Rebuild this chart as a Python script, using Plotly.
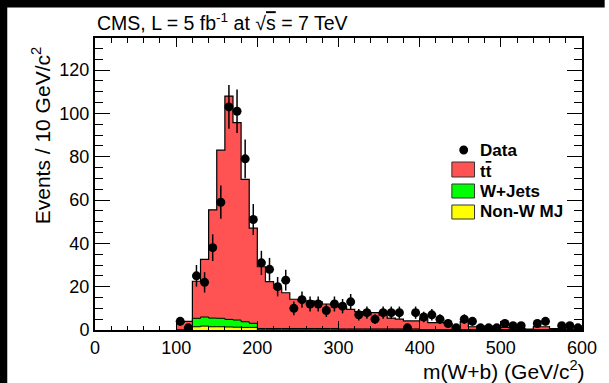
import numpy as np
import plotly.graph_objects as go

# ---- data (bins of 10 GeV, lower edges) ----
bin_lo = list(range(100, 600, 10))

total_mc = [3.5, 4.0, 22.5, 32.6, 55.5, 83.0, 108.0, 95.7, 69.5, 47.0,
            29.2, 22.3, 19.5, 17.2, 14.2, 13.5, 13.5, 13.0, 12.0, 11.8,
            10.5, 9.5, 8.5, 7.0, 8.0, 6.9, 5.5, 5.0, 4.2, 4.2,
            5.4, 3.4, 3.4, 3.0, 0.8, 3.9, 1.5, 1.8, 1.8, 1.8,
            1.2, 1.0, 0.6, 0.4, 1.5, 1.5, 0.6, 0.5, 0.4, 0.4]

wjets = [0.0, 0.0, 3.9, 4.2, 4.0, 3.9, 3.5, 3.3, 2.6, 1.9,
         0.6, 0.6, 0.6, 0.6, 0.6, 0.6, 0.6, 0.6, 0.6, 0.6,
         0.4, 0.4, 0.4, 0.4, 0.4, 0.4, 0.4, 0.4, 0.4, 0.4,
         0.2, 0.2, 0.2, 0.2, 0.2, 0.2, 0.2, 0.2, 0.2, 0.2,
         0.2, 0.2, 0.2, 0.2, 0.2, 0.2, 0.2, 0.2, 0.2, 0.2]

nonw_mj = [0.0, 0.0, 1.5, 1.8, 1.5, 1.5, 1.4, 1.3, 1.2, 1.2,
           0.1, 0.1, 0.1, 0.1, 0.1, 0.1, 0.1, 0.1, 0.1, 0.1,
           0.1, 0.1, 0.1, 0.1, 0.1, 0.1, 0.1, 0.1, 0.1, 0.1,
           0.0, 0.0, 0.0, 0.0, 0.0, 0.0, 0.0, 0.0, 0.0, 0.0,
           0.0, 0.0, 0.0, 0.0, 0.0, 0.0, 0.0, 0.0, 0.0, 0.0]

data_counts = [4, 1, 25, 22, 38, 59, 103, 101, 79, 51,
               31, 28, 20, 23, 10, 14, 12, 12, 9, 12,
               11, 13, 7, 8, 5, 8, 8, 8, 1, 8,
               6, 7, 5, 3, 1, 5, 4, 1, 1, 1,
               3, 2, 2, 0, 3, 4, 0, 2, 2, 1]

x_ticks = [0, 100, 200, 300, 400, 500, 600]
y_ticks = [0, 20, 40, 60, 80, 100, 120]

# ---- derived ----
bw = 10
lo = np.array(bin_lo, dtype=float)
edges = np.append(lo, lo[-1] + bw)
centers = lo + bw / 2
tot = np.array(total_mc)
wj = np.array(wjets)
mj = np.array(nonw_mj)
dat = np.array(data_counts, dtype=float)

def step(v):
    return list(np.append(v, v[-1]))

RED = "#ff5252"
GREEN = "#00ff00"
YELLOW = "#ffff00"
FONT = "Liberation Sans, Arial, Helvetica, sans-serif"

fig = go.Figure()
fig.add_trace(go.Scatter(x=list(edges), y=step(tot), mode="lines", line_shape="hv",
                         fill="tozeroy", fillcolor=RED,
                         line=dict(color="black", width=1.2), showlegend=False,
                         hoverinfo="skip"))
fig.add_trace(go.Scatter(x=list(edges), y=step(wj + mj), mode="lines", line_shape="hv",
                         fill="tozeroy", fillcolor=GREEN,
                         line=dict(color="black", width=1), showlegend=False,
                         hoverinfo="skip"))
fig.add_trace(go.Scatter(x=list(edges), y=step(mj), mode="lines", line_shape="hv",
                         fill="tozeroy", fillcolor=YELLOW,
                         line=dict(color="black", width=1), showlegend=False,
                         hoverinfo="skip"))
mask = dat > 0
fig.add_trace(go.Scatter(x=list(centers[mask]), y=list(dat[mask]), mode="markers",
                         marker=dict(color="black", size=9),
                         error_y=dict(type="data", array=list(np.sqrt(dat[mask])),
                                      color="black", thickness=1.5, width=0),
                         showlegend=False))

# ---- layout geometry ----
L, R, T, B = 95, 589, 38, 330
W, H = R - L, B - T

def px(xp):
    return (xp - L) / W

def py(yp):
    return (B - yp) / H

shapes = []
shapes.append(dict(type="rect", xref="paper", yref="paper", x0=px(-2), x1=px(6),
                   y0=py(390), y1=py(-2), fillcolor="black", line=dict(width=0), layer="above"))
shapes.append(dict(type="rect", xref="paper", yref="paper", x0=px(-2), x1=px(612),
                   y0=py(7.5), y1=py(-2), fillcolor="black", line=dict(width=0), layer="above"))
shapes.append(dict(type="circle", xref="paper", yref="paper", x0=px(464.5), x1=px(473.5),
                   y0=py(154.5), y1=py(145.5), fillcolor="black", line=dict(width=0)))
for (y0, y1, col) in [(162, 177, RED), (184, 198, GREEN), (205, 219, YELLOW)]:
    shapes.append(dict(type="rect", xref="paper", yref="paper", x0=px(457), x1=px(480),
                       y0=py(y1), y1=py(y0), fillcolor=col,
                       line=dict(color="#333333", width=1)))

annotations = []
for (txt, yc) in [("Data", 150), ("t<span style='text-decoration:overline'>t</span>", 171),
                  ("W+Jets", 191), ("Non-W MJ", 212)]:
    annotations.append(dict(text="<b>" + txt + "</b>", xref="paper", yref="paper",
                            x=px(484), y=py(yc), xanchor="left", yanchor="middle",
                            showarrow=False, font=dict(family=FONT, size=17, color="black")))
annotations.append(dict(text="CMS, L = 5 fb<sup>-1</sup> at \u221a<span style='text-decoration:overline'>s</span> = 7 TeV",
                        xref="paper", yref="paper", x=px(95), y=py(22),
                        xanchor="left", yanchor="middle", showarrow=False,
                        font=dict(family=FONT, size=19.5, color="black")))
annotations.append(dict(text="Events / 10 GeV/c<sup>2</sup>", xref="paper", yref="paper",
                        x=px(40), y=py(45), xanchor="center", yanchor="top",
                        textangle=-90, showarrow=False,
                        font=dict(family=FONT, size=21, color="black")))
annotations.append(dict(text="m(W+b) (GeV/c<sup>2</sup>)", xref="paper", yref="paper",
                        x=px(594), y=py(370), xanchor="right", yanchor="middle",
                        showarrow=False, font=dict(family=FONT, size=21, color="black")))

fig.update_layout(
    width=609, height=383,
    margin=dict(l=L, r=609 - R, t=T, b=383 - B, pad=0),
    paper_bgcolor="white", plot_bgcolor="white",
    showlegend=False,
    font=dict(family=FONT, size=18, color="black"),
    shapes=shapes, annotations=annotations,
    xaxis=dict(range=[0, 600], tickvals=x_ticks, ticktext=[str(v) for v in x_ticks],
               ticks="inside", ticklen=9, tickwidth=1.2, tickcolor="black",
               minor=dict(dtick=20, ticks="inside", ticklen=4.5, tickcolor="black", tickwidth=1),
               showline=True, linecolor="black", linewidth=2, mirror="allticks",
               showgrid=False, zeroline=False, tickfont=dict(size=18)),
    yaxis=dict(range=[0, 134.8], tickvals=y_ticks, ticktext=[str(v) for v in y_ticks],
               ticks="inside", ticklen=15, tickwidth=1.2, tickcolor="black",
               minor=dict(dtick=5, ticks="inside", ticklen=8, tickcolor="black", tickwidth=1),
               showline=True, linecolor="black", linewidth=2, mirror="allticks",
               showgrid=False, zeroline=False, tickfont=dict(size=18)),
)

fig.write_html("out.html")
